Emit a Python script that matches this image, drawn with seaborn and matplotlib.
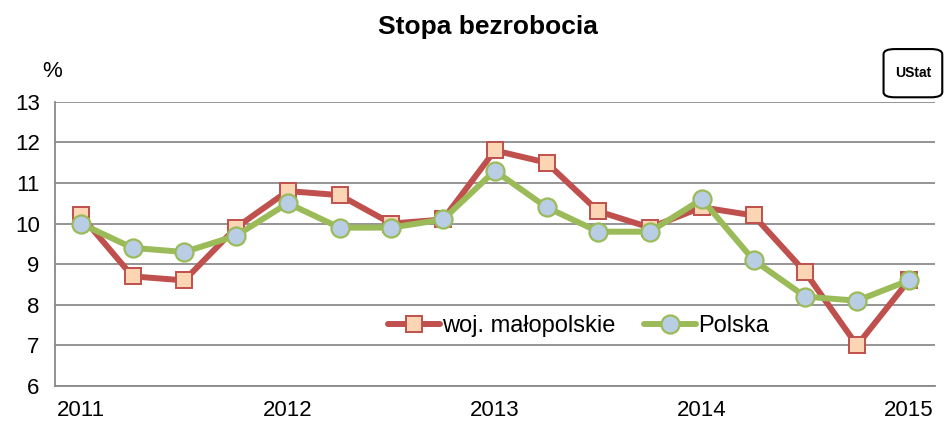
import matplotlib
matplotlib.use("Agg")
import matplotlib.pyplot as plt
import numpy as np
import pandas as pd
import seaborn as sns
from matplotlib.patches import FancyBboxPatch

# Quarterly unemployment rate, 2011-2015
years = ["2011", "2012", "2013", "2014", "2015"]
malopolskie = [10.2, 8.7, 8.6, 9.9, 10.8, 10.7, 10.0, 10.1, 11.8, 11.5,
               10.3, 9.9, 10.4, 10.2, 8.8, 7.0, 8.6]
polska = [10.0, 9.4, 9.3, 9.7, 10.5, 9.9, 9.9, 10.1, 11.3, 10.4,
          9.8, 9.8, 10.6, 9.1, 8.2, 8.1, 8.6]
series_names = ["woj. małopolskie", "Polska"]

df = pd.DataFrame({
    "kw": list(range(len(malopolskie))) * 2,
    "stopa": malopolskie + polska,
    "seria": [series_names[0]] * len(malopolskie) + [series_names[1]] * len(polska),
})

sns.set_style("white")
plt.rcParams["font.family"] = ["Liberation Sans", "DejaVu Sans"]
plt.rcParams["text.color"] = "black"
plt.rcParams["xtick.labelcolor"] = "black"
plt.rcParams["ytick.labelcolor"] = "black"

fig = plt.figure(figsize=(9.47, 4.23), dpi=100)
ax = fig.add_axes([0.058, 0.0875, 0.929, 0.672])

red, green = "#C0504D", "#9BBB59"
sns.lineplot(data=df[df.seria == series_names[0]], x="kw", y="stopa", ax=ax,
             color=red, lw=4.3, marker="s", markersize=11,
             markerfacecolor="#FCD5B5", markeredgecolor=red, markeredgewidth=1.4,
             label=series_names[0], zorder=3)
sns.lineplot(data=df[df.seria == series_names[1]], x="kw", y="stopa", ax=ax,
             color=green, lw=4.3, marker="o", markersize=13,
             markerfacecolor="#B9CDE5", markeredgecolor=green, markeredgewidth=1.6,
             label=series_names[1], zorder=4)

n = len(malopolskie)
ax.set_xlim(-0.5, n - 0.5)
ax.set_ylim(6, 13)
ax.set_yticks(range(6, 14))
ax.set_xticks(range(0, n, 4))
ax.set_xticklabels(years)
ax.set_xticks(np.arange(-0.5, n, 1), minor=True)
ax.tick_params(axis="x", which="major", length=0, labelsize=16, pad=10,
               labelcolor="black")
ax.tick_params(axis="x", which="minor", length=6, width=1.3, color="#898989",
               direction="out")
ax.tick_params(axis="y", length=6, width=1.3, color="#898989", labelsize=16, pad=5,
               labelcolor="black")
ax.set_xlabel("")
ax.set_ylabel("")
ax.grid(axis="y", color="#8C8C8C", lw=1.3)
ax.set_axisbelow(True)
for s in ["top", "right"]:
    ax.spines[s].set_visible(False)
for s in ["left", "bottom"]:
    ax.spines[s].set_color("#898989")
    ax.spines[s].set_linewidth(1.3)

leg = ax.legend(loc="center", bbox_to_anchor=(0.595, 0.21), ncol=2, frameon=False,
                fontsize=17, handlelength=2.2, handletextpad=0.1, columnspacing=1.2)
for t in leg.get_texts():
    t.set_color("black")

fig.text(0.515, 0.935, "Stopa bezrobocia", ha="center", va="center",
         fontsize=19, fontweight="bold", color="black")
fig.text(0.055, 0.83, "%", ha="center", va="center", fontsize=16, color="black")

# logo
logo = FancyBboxPatch((0.935, 0.772), 0.058, 0.11, transform=fig.transFigure,
                      boxstyle="round,pad=0.002,rounding_size=0.012",
                      fc="white", ec="black", lw=1.5)
fig.patches.append(logo)
fig.text(0.964, 0.827, "UStat", ha="center", va="center", fontsize=10,
         fontweight="bold", color="black")

fig.savefig("out.png", dpi=100)
